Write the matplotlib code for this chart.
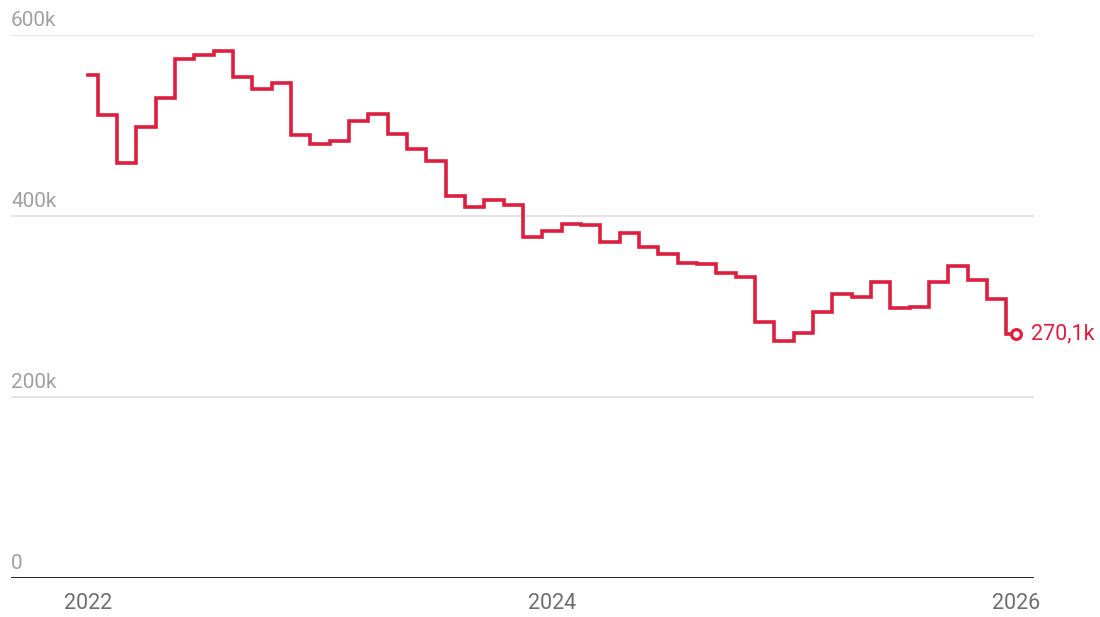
import numpy as np
import pandas as pd
import matplotlib
matplotlib.use("Agg")
import matplotlib.pyplot as plt
import matplotlib.transforms as mtransforms

plt.rcParams["font.family"] = ["Roboto", "DejaVu Sans"]

# monthly values (thousands), Jan 2022 .. Jan 2026
months = pd.date_range("2022-01-01", "2026-01-01", freq="MS")
values = [
    556, 512, 459, 498, 530, 573, 578, 582, 554, 540, 547, 490,   # 2022
    480, 483, 505, 513, 491, 474, 461, 422, 410, 418, 412, 377,   # 2023
    383, 391, 390, 371, 381, 366, 358, 348, 347, 337, 333, 283,   # 2024
    262, 271, 294, 314, 311, 327, 298, 300, 327, 345, 329, 308,   # 2025
    270.1,                                                          # 2026
]
y_ticks = [0, 200, 400, 600]
y_tick_labels = ["0", "200k", "400k", "600k"]
x_tick_years = [2022, 2024, 2026]
last_label = "270,1k"

RED = "#DC1F3E"

x = np.arange(len(months))
fig = plt.figure(figsize=(11, 6.17), dpi=100)
ax = fig.add_axes([0.010, 0.0632, 0.930, 0.880])

ax.step(x, values, where="mid", color=RED, linewidth=2.6, solid_joinstyle="miter", zorder=3)
ax.plot(x[-1], values[-1], "o", markersize=7, markerfacecolor="white",
        markeredgecolor=RED, markeredgewidth=2.3, zorder=4)
ax.annotate(last_label, (x[-1], values[-1]), xytext=(11, 0), textcoords="offset points",
            va="center", ha="left", color=RED, fontsize=15.5)

ax.set_xlim(-3.98, 48.93)
ax.set_ylim(0, 600)

# gridlines + labels sitting above them
trans = mtransforms.blended_transform_factory(ax.transAxes, ax.transData)
for v, lab in zip(y_ticks, y_tick_labels):
    if v > 0:
        ax.axhline(v, color="#e3e3e3", linewidth=1.4, zorder=1)
    ax.text(0.0, v + 6, lab, transform=trans, ha="left", va="bottom",
            color="#a0a0a0", fontsize=15)
ax.axhline(0, color="#111111", linewidth=2, zorder=2)

xt = [(yr - 2022) * 12 for yr in x_tick_years]
ax.set_xticks(xt)
ax.set_xticklabels([str(yr) for yr in x_tick_years], color="#6e6e6e", fontsize=15.5)
ax.tick_params(axis="x", length=0, pad=11)
ax.set_yticks([])
for s in ax.spines.values():
    s.set_visible(False)

fig.savefig("out.png", dpi=100)
